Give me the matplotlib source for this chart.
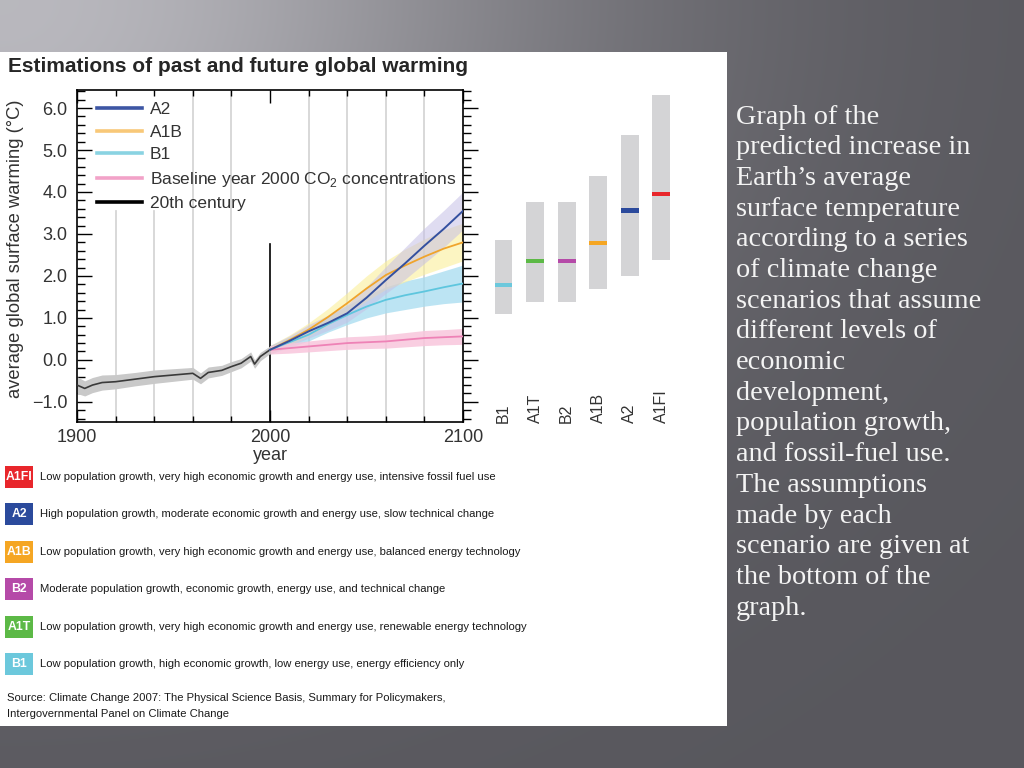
import numpy as np
import matplotlib
matplotlib.use("Agg")
import matplotlib.pyplot as plt
from matplotlib.patches import Rectangle
from matplotlib.lines import Line2D
from matplotlib.ticker import MultipleLocator, FuncFormatter

plt.rcParams['font.family'] = ['Liberation Sans', 'DejaVu Sans']
plt.rcParams['mathtext.fontset'] = 'custom'
plt.rcParams['mathtext.rm'] = 'Liberation Sans'

# ---------------- data ----------------
hist_years = [1900, 1904, 1908, 1913, 1920, 1930, 1940, 1950, 1960, 1964, 1968,
              1975, 1980, 1985, 1990, 1992, 1995, 2000]
hist_temp = [-0.60, -0.68, -0.60, -0.54, -0.52, -0.46, -0.40, -0.36, -0.32, -0.44,
             -0.30, -0.25, -0.16, -0.08, 0.08, -0.10, 0.08, 0.24]
hist_low = [-0.80, -0.86, -0.78, -0.72, -0.69, -0.62, -0.56, -0.51, -0.46, -0.57,
            -0.43, -0.37, -0.28, -0.19, -0.03, -0.20, -0.02, 0.15]
hist_high = [-0.40, -0.50, -0.42, -0.36, -0.35, -0.30, -0.24, -0.21, -0.18, -0.31,
             -0.17, -0.13, -0.04, 0.03, 0.19, 0.00, 0.18, 0.33]

proj_years = [2000, 2010, 2020, 2030, 2040, 2050, 2060, 2070, 2080, 2090, 2100]
a2_mean = [0.24, 0.45, 0.68, 0.88, 1.11, 1.48, 1.90, 2.30, 2.72, 3.12, 3.55]
a2_low = [0.14, 0.33, 0.52, 0.70, 0.90, 1.22, 1.58, 1.92, 2.30, 2.68, 3.10]
a2_high = [0.34, 0.57, 0.84, 1.06, 1.32, 1.74, 2.22, 2.68, 3.14, 3.56, 4.00]
a1b_mean = [0.24, 0.47, 0.72, 1.02, 1.35, 1.70, 2.02, 2.25, 2.46, 2.65, 2.80]
a1b_low = [0.14, 0.35, 0.56, 0.82, 1.10, 1.40, 1.68, 1.86, 2.04, 2.20, 2.36]
a1b_high = [0.34, 0.59, 0.88, 1.22, 1.60, 2.00, 2.36, 2.64, 2.88, 3.10, 3.26]
b1_mean = [0.24, 0.42, 0.60, 0.85, 1.07, 1.27, 1.43, 1.54, 1.63, 1.73, 1.82]
b1_low = [0.14, 0.30, 0.45, 0.66, 0.84, 1.00, 1.12, 1.20, 1.28, 1.34, 1.38]
b1_high = [0.34, 0.54, 0.75, 1.04, 1.30, 1.54, 1.74, 1.88, 1.98, 2.12, 2.26]
base_mean = [0.24, 0.28, 0.32, 0.36, 0.40, 0.42, 0.44, 0.48, 0.52, 0.54, 0.56]
base_low = [0.14, 0.16, 0.19, 0.22, 0.25, 0.27, 0.28, 0.31, 0.34, 0.36, 0.37]
base_high = [0.34, 0.40, 0.45, 0.50, 0.55, 0.57, 0.60, 0.65, 0.70, 0.72, 0.75]

legend_labels = ['A2', 'A1B', 'B1', 'Baseline year 2000 CO$_{2}$ concentrations', '20th century']

bar_scenarios = ['B1', 'A1T', 'B2', 'A1B', 'A2', 'A1FI']
bar_low = [1.10, 1.38, 1.38, 1.70, 2.00, 2.38]
bar_high = [2.85, 3.77, 3.77, 4.38, 5.36, 6.32]
bar_best = [1.78, 2.35, 2.35, 2.78, 3.56, 3.96]
bar_colors = ['#6cc8dc', '#5cb946', '#b54aa8', '#f5a623', '#2b4a9c', '#e8262b']

scen_codes = ['A1FI', 'A2', 'A1B', 'B2', 'A1T', 'B1']
scen_colors = ['#e8262b', '#2b4a9c', '#f5a623', '#b54aa8', '#5cb946', '#6cc8dc']
scen_desc = [
    'Low population growth, very high economic growth and energy use, intensive fossil fuel use',
    'High population growth, moderate economic growth and energy use, slow technical change',
    'Low population growth, very high economic growth and energy use, balanced energy technology',
    'Moderate population growth, economic growth, energy use, and technical change',
    'Low population growth, very high economic growth and energy use, renewable energy technology',
    'Low population growth, high economic growth, low energy use, energy efficiency only',
]
source_lines = ['Source: Climate Change 2007: The Physical Science Basis, Summary for Policymakers,',
                'Intergovernmental Panel on Climate Change']

side_lines = ['Graph of the', 'predicted increase in', 'Earth\u2019s average',
              'surface temperature', 'according to a series', 'of climate change',
              'scenarios that assume', 'different levels of', 'economic',
              'development,', 'population growth,', 'and fossil-fuel use.',
              'The assumptions', 'made by each', 'scenario are given at',
              'the bottom of the', 'graph.']

# ---------------- figure ----------------
W, H = 1024, 768
fig = plt.figure(figsize=(W / 100, H / 100), dpi=100)


def fx(px):
    return px / W


def fy(py):
    return 1 - py / H


# slide background gradient
bg = fig.add_axes([0, 0, 1, 1], zorder=-10)
yy, xx = np.mgrid[0:H, 0:W]
v = 0.345 + 0.38 * np.exp(-((xx / 560.0) ** 2 + (yy / 430.0) ** 2))
img = np.dstack([v, v - 0.003, v + 0.02])
bg.imshow(np.clip(img, 0, 1), extent=[0, W, H, 0], aspect='auto')
bg.set_xlim(0, W)
bg.set_ylim(H, 0)
bg.axis('off')

# white panel
fig.patches.append(Rectangle((0, fy(726)), fx(727), (726 - 52) / H,
                             transform=fig.transFigure, facecolor='white',
                             edgecolor='none', zorder=-5))

fig.text(fx(8), fy(67), 'Estimations of past and future global warming',
         fontsize=15, fontweight='bold', color='#262626', va='center', ha='left')

# ---------------- main axes ----------------
ax = fig.add_axes([fx(77), fy(422), fx(463) - fx(77), fy(90) - fy(422)])
ax.set_facecolor('none')
YMIN, YMAX = -1.48, 6.43
ax.set_xlim(1900, 2100)
ax.set_ylim(YMIN, YMAX)

for yr in range(1920, 2100, 20):
    if yr == 2000:
        continue
    top = (3.55 - YMIN) / (YMAX - YMIN) if yr < 1950 else 1.0
    ax.axvline(yr, ymax=top, color='#d6d6d6', lw=1.3, zorder=0)
ax.plot([2000, 2000], [YMIN, 2.76], color='black', lw=1.2, zorder=1)

ax.fill_between(hist_years, hist_low, hist_high, color='#c9c9c9', lw=0, zorder=2)
ax.fill_between(proj_years, b1_low, b1_high, color='#a6dcf0', alpha=0.75, lw=0, zorder=2)
ax.fill_between(proj_years, a1b_low, a1b_high, color='#fbef9a', alpha=0.6, lw=0, zorder=2)
ax.fill_between(proj_years, a2_low, a2_high, color='#c6c0e6', alpha=0.55, lw=0, zorder=2)
ax.fill_between(proj_years, base_low, base_high, color='#f8c6dc', alpha=0.85, lw=0, zorder=2)

ax.plot(hist_years, hist_temp, color='#3a3a3a', lw=1.2, zorder=4)
ax.plot(proj_years, base_mean, color='#ee82b6', lw=1.3, zorder=4)
ax.plot(proj_years, b1_mean, color='#5ec6de', lw=1.3, zorder=4)
ax.plot(proj_years, a1b_mean, color='#f0a42c', lw=1.3, zorder=4)
ax.plot(proj_years, a2_mean, color='#34509f', lw=1.4, zorder=5)

leg_colors = ['#3d56a4', '#f8c878', '#8ad3e2', '#f2a2c8', '#000000']
handles = [Line2D([], [], color=c, lw=2.6) for c in leg_colors]
ax.legend(handles, legend_labels, loc='upper left',
          bbox_to_anchor=(fx(97), fy(102)), bbox_transform=fig.transFigure,
          frameon=False, borderpad=0, borderaxespad=0, fontsize=12.5,
          handlelength=2.6, handletextpad=0.45, labelspacing=0.43,
          labelcolor='#333333')

ax.set_xticks([1900, 2000, 2100])
ax.set_xticks(list(range(1920, 2100, 20)), minor=True)
ax.set_xticklabels(['1900', '2000', '2100'])
ax.tick_params(axis='x', which='both', direction='in', top=True, bottom=True,
               labelsize=13, labelcolor='#333333', pad=5)
ax.tick_params(axis='x', which='major', length=9, width=1)
ax.tick_params(axis='x', which='minor', length=4.5, width=1)

ax.yaxis.set_major_locator(MultipleLocator(1.0))
ax.yaxis.set_minor_locator(MultipleLocator(0.2))
ax.yaxis.set_major_formatter(FuncFormatter(lambda v, p: f'{v:.1f}'.replace('-', '\u2212')))
ax.tick_params(axis='y', which='both', direction='in', left=True, right=False,
               labelsize=13, labelcolor='#333333', pad=7)
ax.tick_params(axis='y', which='major', length=11, width=1)
ax.tick_params(axis='y', which='minor', length=6, width=1)
for s in ax.spines.values():
    s.set_linewidth(1.2)

axr = ax.twinx()
axr.set_ylim(YMIN, YMAX)
axr.yaxis.set_major_locator(MultipleLocator(1.0))
axr.yaxis.set_minor_locator(MultipleLocator(0.2))
axr.tick_params(axis='y', which='both', direction='out', labelright=False)
axr.tick_params(axis='y', which='major', length=11, width=1)
axr.tick_params(axis='y', which='minor', length=6, width=1)
for s in axr.spines.values():
    s.set_visible(False)

fig.text(fx(270), fy(455), 'year', fontsize=13, color='#333333', ha='center', va='center')
fig.text(fx(16), fy(249), 'average global surface warming (\u00b0C)', fontsize=13.2,
         color='#333333', rotation=90, ha='center', va='center')

# ---------------- scenario range bars ----------------
axb = fig.add_axes([fx(485), fy(422), fx(680) - fx(485), fy(90) - fy(422)])
axb.set_ylim(YMIN, YMAX)
axb.set_xlim(-0.587, 5.6)
axb.axis('off')
xpos = np.arange(len(bar_scenarios))
axb.bar(xpos, np.array(bar_high) - np.array(bar_low), bottom=bar_low,
        width=0.57, color='#d4d4d6', lw=0)
axb.bar(xpos, 0.1, bottom=np.array(bar_best) - 0.05, width=0.57,
        color=bar_colors, lw=0)
for i, s in enumerate(bar_scenarios):
    axb.text(i, -1.5, s, rotation=90, ha='center', va='bottom', fontsize=11.5,
             color='#333333')

# ---------------- scenario descriptions ----------------
for i, (code, col, desc) in enumerate(zip(scen_codes, scen_colors, scen_desc)):
    yc = 477 + i * 37.4
    fig.patches.append(Rectangle((fx(5), fy(yc + 11)), fx(28), 22 / H,
                                 transform=fig.transFigure, facecolor=col,
                                 edgecolor='none', zorder=1))
    fig.text(fx(19), fy(yc), code, ha='center', va='center', color='white',
             fontsize=8.8, fontweight='bold', zorder=2)
    fig.text(fx(40), fy(yc), desc, ha='left', va='center', color='#1a1a1a',
             fontsize=8.1)

for i, line in enumerate(source_lines):
    fig.text(fx(7), fy(698 + i * 16), line, ha='left', va='center',
             color='#1a1a1a', fontsize=8.1)

# ---------------- side text ----------------
for i, line in enumerate(side_lines):
    fig.text(fx(736), fy(117 + i * 30.7), line, ha='left', va='center',
             color='#f4f4f4', fontsize=20.3, family=['Liberation Serif', 'DejaVu Serif'])

fig.savefig('out.png', dpi=100)
